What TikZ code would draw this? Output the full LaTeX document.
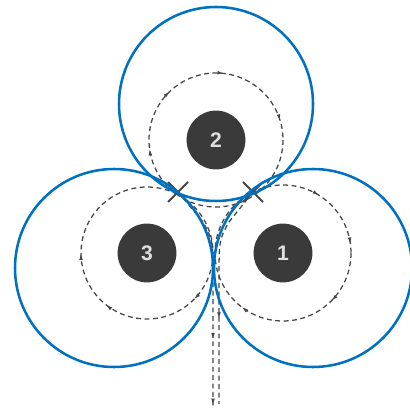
\documentclass[tikz,border=0pt]{standalone}
\usepackage{fontspec}
\setsansfont{Liberation Sans}
\usetikzlibrary{arrows.meta,calc,decorations.markings}
\definecolor{ZoneBlue}{RGB}{0,112,192}
\definecolor{RotorDark}{RGB}{58,58,58}
\definecolor{FlowGrey}{RGB}{70,70,70}

\begin{document}
\begin{tikzpicture}[x=0.025cm,y=-0.025cm,>=Latex]
        \tikzset{rotor/.style={circle,fill=RotorDark,minimum size=1.47cm,inner sep=0pt,text=white!88!black,font=\sffamily\bfseries\fontsize{15}{17}\selectfont},
          zone/.style={draw=ZoneBlue,line width=1.8pt},
          orbit/.style={draw=FlowGrey,line width=0.9pt,dash pattern=on 3.5pt off 2.5pt},
          cross/.style={draw=FlowGrey,line width=1.4pt},
          tick/.style={postaction={decorate,decoration={markings,
            mark=at position #1 with {\arrow[FlowGrey,solid]{Latex[length=5pt,width=2.6pt]}}}}}}
        \useasboundingbox (0,0) rectangle (409,411);
        % rotors
        \node[rotor] (r2) at (216,140) {2};
        \node[rotor] (r3) at (147,253) {3};
        \node[rotor] (r1) at (283,253) {1};
        \coordinate (xl) at (178,192);
        \coordinate (xr) at (253,192);
        \coordinate (outl) at (213,408);
        \coordinate (outr) at (219,404);
        % rotation paths
        \draw[orbit,tick=0.48,tick=0.63,tick=0.77,tick=0.955] (r2) circle (67);
        \draw[orbit,tick=0.125,tick=0.358,tick=0.5] (r3) circle (66);
        \draw[orbit,tick=0.125,tick=0.355,tick=0.84,tick=0.98] (r1) circle (68);
        % downwash
        \draw[orbit,tick=0.7,tick=0.99] (xl) -- (203,222) .. controls (213,240) .. (213,282) -- (outl);
        \draw[orbit,tick=0.62] (xr) -- (229,222) .. controls (219,240) .. (219,282) -- (outr);
        \draw[cross] ($(xl)+(-10,-10)$) -- ($(xl)+(10,10)$) ($(xl)+(-10,10)$) -- ($(xl)+(10,-10)$);
        \draw[cross] ($(xr)+(-10,-10)$) -- ($(xr)+(10,10)$) ($(xr)+(-10,10)$) -- ($(xr)+(10,-10)$);
        % zones
        \draw[zone] (216,104) circle (97);
        \draw[zone] (114,268) circle (99);
        \draw[zone] (313,268) circle (99);
      \end{tikzpicture}
\end{document}
